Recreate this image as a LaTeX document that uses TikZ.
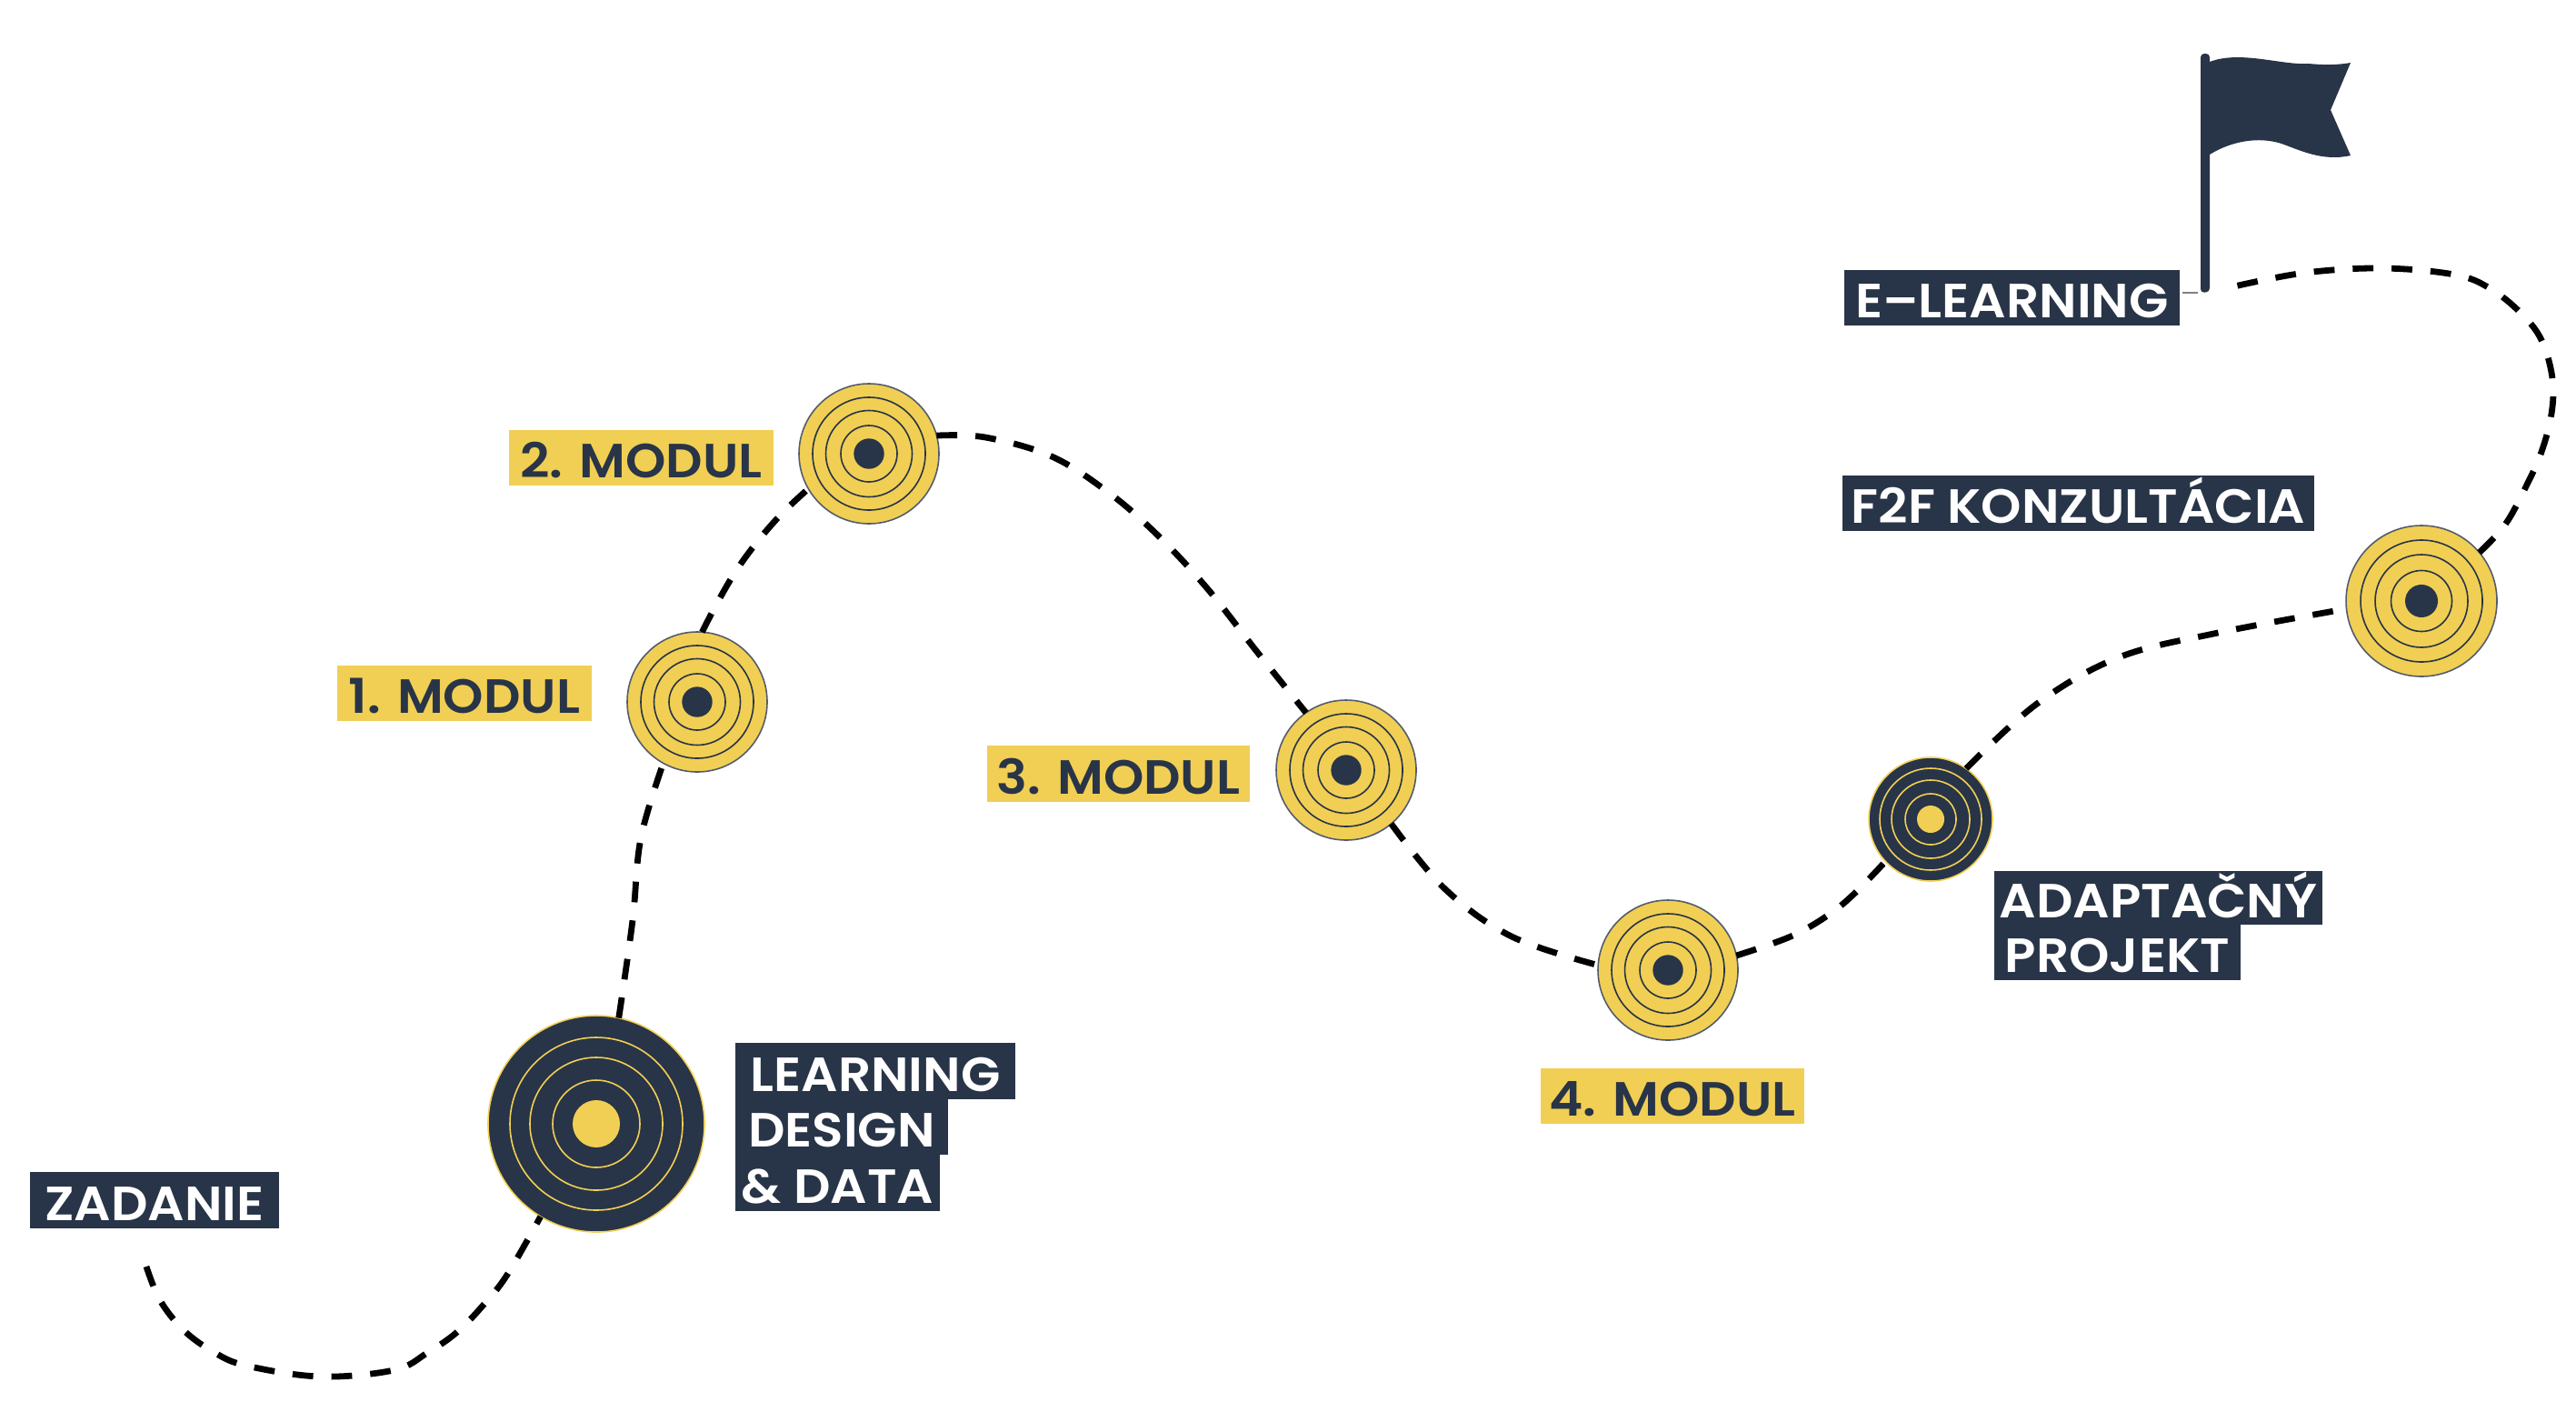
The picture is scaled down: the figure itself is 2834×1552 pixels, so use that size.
\documentclass[tikz,border=0pt]{standalone}
\usepackage{fontspec}
\setmainfont{Poppins SemiBold}[FakeStretch=1.07]
\definecolor{navy}{HTML}{283447}
\definecolor{gold}{HTML}{F1CF54}
\tikzset{
  px/.style={x=0.25pt,y=-0.25pt},
  labelbox/.style={rectangle,inner sep=0pt,outer sep=0pt,font=\fontsize{13.2}{13.2}\selectfont,text height=11.1pt,text depth=0pt,align=center},
  darkbox/.style={labelbox,fill=navy,text=white},
  goldbox/.style={labelbox,fill=gold,text=navy},
  goldtarget/.style={circle,fill=gold,draw=navy!80,line width=0.4pt,inner sep=0pt,outer sep=0pt},
  darktarget/.style={circle,fill=navy,draw=gold,line width=0.4pt,inner sep=0pt,outer sep=0pt},
  road/.style={draw=black,line width=1.7pt,dash pattern=on 5.7pt off 5pt,line cap=butt}
}
\newcommand{\lab}[7]{%
  \pgfmathsetmacro{\lw}{(#4-#2)*0.25}\pgfmathsetmacro{\lh}{(#5-#3)*0.25}%
  \node[#6,minimum width=\lw pt,minimum height=\lh pt,anchor=north west] (#1) at (#2,#3) {#7};}
\newcommand{\target}[8]{%
  \pgfmathsetmacro{\td}{2*#4*0.25}%
  \node[#8,minimum size=\td pt] (#1) at (#2,#3) {};%
  \foreach \rr in {#5}{\draw[ringcol,line width=0.4pt] (#1.center) circle[radius=\rr];}%
  \fill[dotcol] (#1.center) circle[radius=#6];}
\newcommand{\ringcolors}[2]{\colorlet{ringcol}{#1}\colorlet{dotcol}{#2}}
\begin{document}
\begin{tikzpicture}[px]
\useasboundingbox (0,0) rectangle (2834,1552);
% targets
\ringcolors{gold}{gold}
\target{design}{656}{1236}{119}{95,73,48}{26}{}{darktarget}
\target{adapt}{2124}{901}{68}{56,43,28}{15}{}{darktarget}
\ringcolors{navy}{navy}
\target{m1}{767}{772}{77}{62,47.5,31}{16.7}{}{goldtarget}
\target{m2}{956}{499}{77}{62,47.5,31}{16.7}{}{goldtarget}
\target{m3}{1481}{847}{77}{62,47.5,31}{16.7}{}{goldtarget}
\target{m4}{1835}{1067}{77}{62,47.5,31}{16.7}{}{goldtarget}
\target{f2f}{2664}{661}{83}{67,51,33.5}{18}{}{goldtarget}
% flag
\fill[navy,rounded corners=1pt] (2421,59) -- (2431,59) -- (2431,321) -- (2421,322) -- cycle;
\fill[navy] (2431,68) .. controls (2465,55) and (2510,72) .. (2540,70)
  .. controls (2560,72) and (2575,71) .. (2586,69)
  -- (2564,121) -- (2586,171)
  .. controls (2555,178) and (2530,165) .. (2510,158)
  .. controls (2485,150) and (2455,155) .. (2431,170) -- cycle;
\draw[gray,line width=0.3pt] (2401,322) -- (2418,322);
\coordinate (pole) at (2458,315);
\coordinate (start) at (161,1393);
% labels
\lab{zadanie}{33}{1289}{307}{1351}{darkbox}{ZADANIE}
\lab{ld1}{809}{1147}{1117}{1209}{darkbox}{LEARNING}
\lab{ld2}{809}{1209}{1043}{1270}{darkbox}{DESIGN}
\lab{ld3}{809}{1270}{1034}{1332}{darkbox}{\& DATA}
\lab{mod1}{371}{732}{651}{793}{goldbox}{1. MODUL}
\lab{mod2}{560}{473}{851}{534}{goldbox}{2. MODUL}
\lab{mod3}{1086}{820}{1375}{882}{goldbox}{3. MODUL}
\lab{mod4}{1695}{1175}{1985}{1236}{goldbox}{4. MODUL}
\lab{ad1}{2194}{958}{2555}{1017}{darkbox}{ADAPTAČNÝ}
\lab{ad2}{2194}{1017}{2465}{1078}{darkbox}{PROJEKT}
\lab{f2flab}{2027}{523}{2546}{584}{darkbox}{F2F KONZULTÁCIA}
\lab{elearn}{2029}{297}{2398}{358}{darkbox}{E–LEARNING}
% road
\draw[road] plot[smooth,tension=0.6] coordinates {(start) (176,1430) (202,1463) (235,1487) (271,1502) (352,1514) (433,1507) (470,1488) (503,1465) (532,1435) (558,1402) (design.239)};
\draw[road] plot[smooth,tension=0.6] coordinates {(design.78) (696,1012) (705,922) (m1.241)};
\draw[road] plot[smooth,tension=0.6] coordinates {(m1.86) (788,665) (809,629) (833,596) (860,565) (m2.210)};
\draw[road] plot[smooth,tension=0.6] coordinates {(m2.15) (1084,481) (1157,502) (1220,542) (1274,589) (1328,647) (1383,717) (m3.125)};
\draw[road] plot[smooth,tension=0.6] coordinates {(m3.310) (1590,978) (1663,1030) (m4.176)};
\draw[road] plot[smooth,tension=0.6] coordinates {(m4.12) (1970,1030) (2012,1006) (2042,981) (adapt.223)};
\draw[road] plot[smooth,tension=0.6] coordinates {(adapt.55) (2241,774) (2331,723) (2440,696) (f2f.186)};
\draw[road] plot[smooth,tension=0.6] coordinates {(f2f.40) (2756,577) (2779,535) (2796,497) (2807,455) (2808,416) (2796,374) (2773,344) (2739,317) (2700,302) (2621,295) (2536,300) (pole)};
\end{tikzpicture}
\end{document}
